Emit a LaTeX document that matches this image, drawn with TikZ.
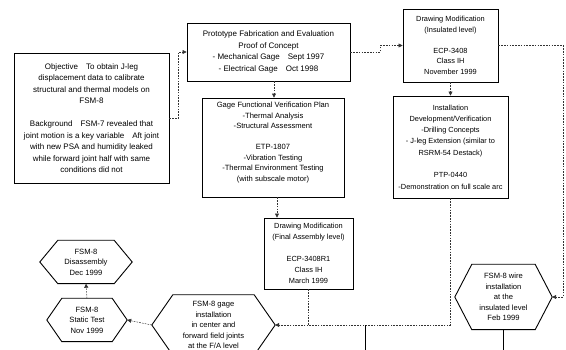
\documentclass[tikz,border=0pt]{standalone}
\usepackage{fontspec}
\setmainfont{Liberation Sans}
\usetikzlibrary{arrows.meta,calc}
\newcommand\hexdraw[2]{\draw[hexline] (#1.west) -- ([xshift=#2]#1.north west) -- ([xshift=-#2]#1.north east) -- (#1.east) -- ([xshift=-#2]#1.south east) -- ([xshift=#2]#1.south west) -- cycle;}
\begin{document}
\begin{tikzpicture}[x=1pt,y=-1pt,
  box/.style={draw, line width=0.9pt, align=center, inner sep=2pt, font=\fontsize{8}{11.5}\selectfont},
  hexnode/.style={align=center, inner sep=0pt, font=\fontsize{7.6}{10.6}\selectfont},
  conn/.style={line width=0.5pt, black!80, dash pattern=on 1.6pt off 1.2pt, -{Triangle[length=4pt,width=4pt]}},
  dline/.style={line width=0.5pt, black!80, dash pattern=on 1.6pt off 1.2pt},
  sline/.style={line width=0.6pt},
  hexline/.style={line width=0.9pt}
]
\useasboundingbox (0,0) rectangle (566,350);
\clip (0,0) rectangle (566,350);

\node[box, minimum width=155pt, minimum height=130pt] (obj) at (91.5,118) {Objective\quad To obtain J-leg\\displacement data to calibrate\\structural and thermal models on\\FSM-8\\[11.5pt]Background\quad FSM-7 revealed that\\joint motion is a key variable\quad Aft joint\\with new PSA and humidity leaked\\while forward joint half with same\\conditions did not};

\node[box, minimum width=163pt, minimum height=58pt] (proto) at (268.5,52) {Prototype Fabrication and Evaluation\\Proof of Concept\\- Mechanical Gage\quad Sept 1997\\- Electrical Gage\quad Oct 1998};

\node[box, minimum width=142pt, minimum height=99pt, text depth=12pt, font=\fontsize{7.6}{10.5}\selectfont] (gage) at (273,147.5) {Gage Functional Verification Plan\\-Thermal Analysis\\-Structural Assessment\\[10.5pt]ETP-1807\\-Vibration Testing\\-Thermal Environment Testing\\(with subscale motor)};

\node[box, minimum width=89pt, minimum height=71pt, font=\fontsize{7.4}{11}\selectfont] (fin) at (308.5,253.5) {Drawing Modification\\(Final Assembly level)\\[11pt]ECP-3408R1\\Class IH\\March 1999};

\node[box, minimum width=95pt, minimum height=73pt, font=\fontsize{7.4}{10.5}\selectfont] (ins) at (450.5,45.5) {Drawing Modification\\(Insulated level)\\[10.5pt]ECP-3408\\Class IH\\November 1999};

\node[box, minimum width=115pt, minimum height=102pt, font=\fontsize{7.4}{11.3}\selectfont] (inst) at (450.5,147) {Installation\\Development/Verification\\-Drilling Concepts\\- J-leg Extension (similar to\\RSRM-54 Destack)\\[11.3pt]PTP-0440\\-Demonstration on full scale arc};

\node[hexnode, minimum width=92pt, minimum height=43pt] (dis) at (86,262) {FSM-8\\Disassembly\\Dec 1999};
\hexdraw{dis}{18pt}
\node[hexnode, minimum width=80pt, minimum height=43pt] (st) at (87,320) {FSM-8\\Static Test\\Nov 1999};
\hexdraw{st}{15pt}
\node[hexnode, minimum width=123pt, minimum height=60pt] (gi) at (213.5,325) {FSM-8 gage\\installation\\in center and\\forward field joints\\at the F/A level};
\hexdraw{gi}{21pt}
\node[hexnode, minimum width=97pt, minimum height=65pt] (wi) at (503.5,297) {FSM-8 wire\\installation\\at the\\insulated level\\Feb 1999};
\hexdraw{wi}{17pt}

\coordinate (gx) at (274,0);
\coordinate (fx) at (277,0);
\coordinate (rx) at (563,0);
\coordinate (b1) at (365,352);

\draw[conn] (obj.east) -- ++(9,0) |- (proto.west);
\draw[conn] (proto.south -| gx) -- (gage.north -| gx);
\draw[conn] (gage.south -| fx) -- (fin.north -| fx);
\draw[conn] (proto.east) -- ++(30,0) |- (ins.west);
\draw[conn] (ins.south) -- (inst.north);
\draw[conn] (ins.east) -- (ins.east -| rx) -- (rx |- wi.east) -- (wi.east);
\draw[conn] (inst.south) |- (gi.east);
\draw[dline] (fin.south) -- (fin.south |- gi.east);
\draw[sline] (b1) -- (b1 |- gi.east);
\draw[sline] (wi.south) -- (wi.south |- b1);
\draw[conn] (gi.west) -- (st.east);
\draw[conn] (st.north) -- (dis.south);
\end{tikzpicture}
\end{document}
